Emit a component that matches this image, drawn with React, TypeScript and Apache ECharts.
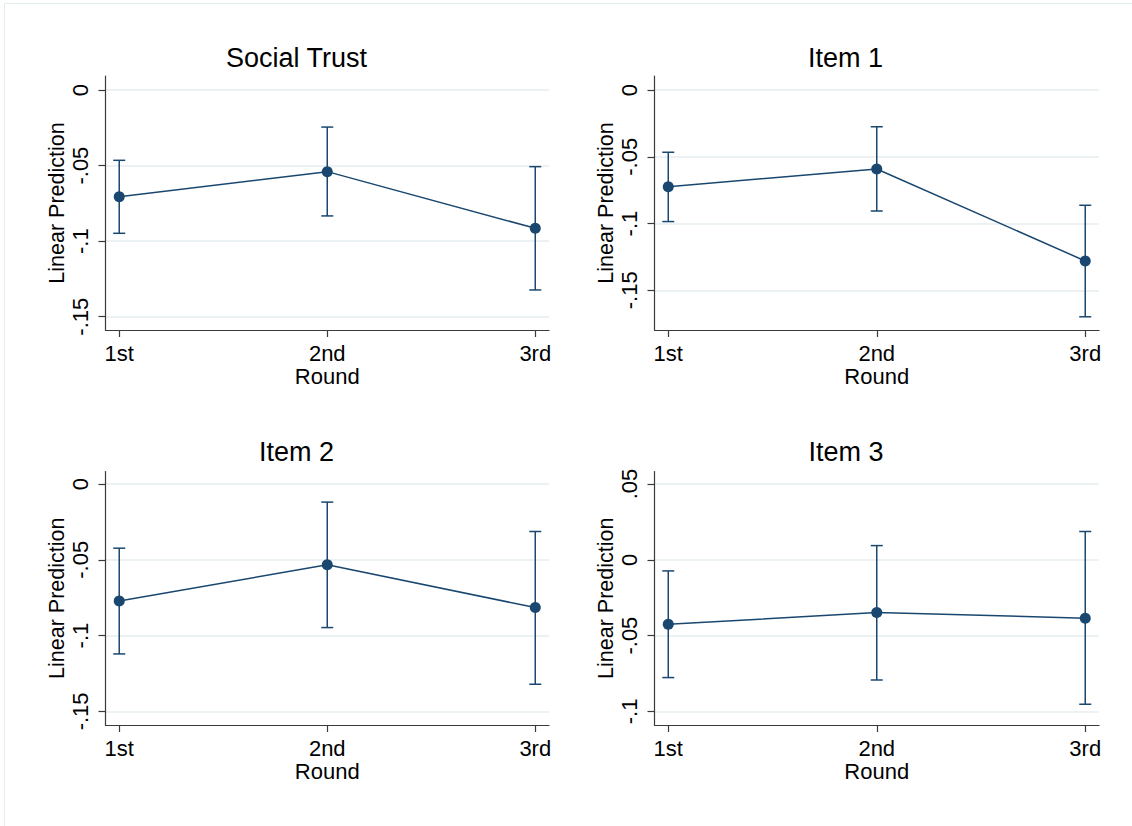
import React, { useEffect, useRef } from "react";
import * as echarts from "echarts";

const rounds = ["1st", "2nd", "3rd"];
const roundPos = [1, 2, 3];

const panelTitles = ["Social Trust", "Item 1", "Item 2", "Item 3"];

const trustEst = [-0.0706, -0.054, -0.0915];
const trustLo = [-0.0948, -0.0833, -0.1323];
const trustHi = [-0.0465, -0.0245, -0.0507];

const item1Est = [-0.0724, -0.0591, -0.128];
const item1Lo = [-0.0985, -0.0906, -0.1698];
const item1Hi = [-0.0466, -0.0275, -0.0863];

const item2Est = [-0.0771, -0.0533, -0.0815];
const item2Lo = [-0.1121, -0.0947, -0.1321];
const item2Hi = [-0.0423, -0.0119, -0.0313];

const item3Est = [-0.0425, -0.0348, -0.0385];
const item3Lo = [-0.0777, -0.0793, -0.0953];
const item3Hi = [-0.0073, 0.0094, 0.0187];

const yTicksA = [0, -0.05, -0.1, -0.15];
const yTicksB = [0.05, 0, -0.05, -0.1];

const yRanges = [
  [-0.1588, 0.0093],
  [-0.1797, 0.0105],
  [-0.159, 0.0083],
  [-0.109, 0.0583],
];

const NAVY = "#1a476f";
const FONT = "'Liberation Sans', Arial, Helvetica, sans-serif";

const fmtY = (v: number) => {
  const r = Math.round(v * 100) / 100;
  if (r === 0) return "0";
  let s = String(r);
  s = s.replace("0.", ".");
  return s;
};

export default function App() {
  const ref = useRef<HTMLDivElement>(null);
  useEffect(() => {
    if (!ref.current) return;
    const chart = echarts.init(ref.current, null, { renderer: "svg" });

    const grids = [
      { left: 105.5, top: 76, width: 443.5, height: 254 },
      { left: 654.5, top: 76, width: 444.5, height: 254 },
      { left: 105.5, top: 471.5, width: 443.5, height: 253.5 },
      { left: 654.5, top: 471.5, width: 444.5, height: 253.5 },
    ];
    const sets = [
      [trustEst, trustLo, trustHi],
      [item1Est, item1Lo, item1Hi],
      [item2Est, item2Lo, item2Hi],
      [item3Est, item3Lo, item3Hi],
    ];
    const yTickSets = [yTicksA, yTicksA, yTicksA, yTicksB];

    const axisLineStyle = { color: "#3a3a3a", width: 1.2 };

    const xAxes = grids.map((_, i) => ({
      gridIndex: i,
      type: "value",
      min: 0.934,
      max: 3.066,
      name: "Round",
      nameLocation: "middle",
      nameGap: 35,
      nameTextStyle: { fontFamily: FONT, fontSize: 22, color: "#000" },
      axisLine: { show: true, onZero: false, lineStyle: axisLineStyle },
      axisTick: { show: true, length: 7, customValues: roundPos, lineStyle: axisLineStyle },
      axisLabel: {
        customValues: roundPos,
        margin: 12,
        fontFamily: FONT,
        fontSize: 22,
        color: "#000",
        formatter: (v: number) => rounds[Math.round(v) - 1] ?? "",
      },
      splitLine: { show: false },
    }));

    const yAxes = grids.map((_, i) => ({
      gridIndex: i,
      type: "value",
      min: yRanges[i][0],
      max: yRanges[i][1],
      name: "Linear Prediction",
      nameLocation: "middle",
      nameGap: 38,
      nameRotate: 90,
      nameTextStyle: { fontFamily: FONT, fontSize: 21.5, color: "#000" },
      axisLine: { show: true, onZero: false, lineStyle: axisLineStyle },
      axisTick: { show: true, length: 7, customValues: yTickSets[i], lineStyle: axisLineStyle },
      axisLabel: {
        customValues: yTickSets[i],
        rotate: 90,
        margin: 14,
        fontFamily: FONT,
        fontSize: 22,
        color: "#000",
        formatter: (v: number) => fmtY(v),
      },
      splitLine: { show: true, lineStyle: { color: "#e6eef1", width: 1.5 } },
    }));

    const series: any[] = [];
    sets.forEach(([est, lo, hi], i) => {
      series.push({
        type: "custom",
        xAxisIndex: i,
        yAxisIndex: i,
        z: 2,
        encode: { x: 0, y: [1, 2] },
        data: roundPos.map((x, k) => [x, lo[k], hi[k]]),
        renderItem: (params: any, api: any) => {
          const x = api.value(0);
          const pLo = api.coord([x, api.value(1)]);
          const pHi = api.coord([x, api.value(2)]);
          const hw = 6;
          const st = { stroke: NAVY, lineWidth: 1.5 };
          return {
            type: "group",
            children: [
              { type: "line", shape: { x1: pLo[0], y1: pLo[1], x2: pHi[0], y2: pHi[1] }, style: st },
              { type: "line", shape: { x1: pLo[0] - hw, y1: pLo[1], x2: pLo[0] + hw, y2: pLo[1] }, style: st },
              { type: "line", shape: { x1: pHi[0] - hw, y1: pHi[1], x2: pHi[0] + hw, y2: pHi[1] }, style: st },
            ],
          };
        },
      });
      series.push({
        type: "line",
        xAxisIndex: i,
        yAxisIndex: i,
        z: 3,
        data: roundPos.map((x, k) => [x, est[k]]),
        symbol: "circle",
        symbolSize: 11,
        showSymbol: true,
        lineStyle: { color: NAVY, width: 1.5 },
        itemStyle: { color: NAVY },
      });
    });

    const titleCenters = [
      [296.5, 57.5],
      [845.5, 57.5],
      [296.5, 452],
      [846, 452],
    ];

    const graphics: any[] = [
      {
        type: "rect",
        shape: { x: 4.5, y: 3.5, width: 1140, height: 840 },
        style: { fill: "none", stroke: "#e3ecee", lineWidth: 1 },
        silent: true,
      },
      ...panelTitles.map((t, i) => ({
        type: "text",
        x: titleCenters[i][0],
        y: titleCenters[i][1],
        style: {
          text: t,
          fontFamily: FONT,
          fontSize: 27,
          fill: "#000",
          textAlign: "center",
          textVerticalAlign: "middle",
        },
      })),
    ];

    chart.setOption({
      animation: false,
      backgroundColor: "#ffffff",
      grid: grids,
      xAxis: xAxes,
      yAxis: yAxes,
      series,
      graphic: graphics,
    });
    return () => chart.dispose();
  }, []);

  return (
    <div
      ref={ref}
      style={{ position: "fixed", left: 0, top: 0, width: 1132, height: 826 }}
    />
  );
}
